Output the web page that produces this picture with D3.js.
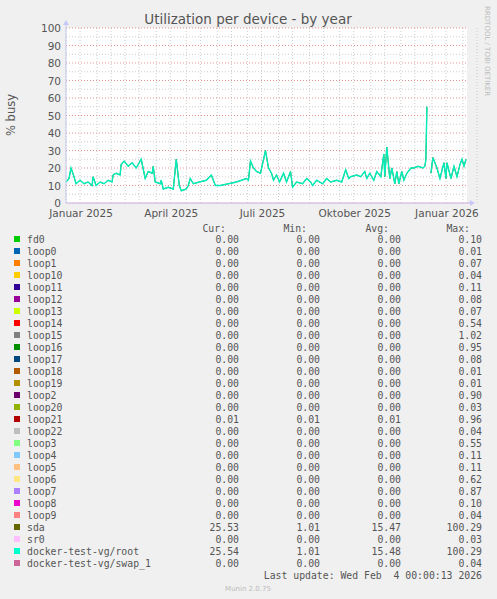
<!DOCTYPE html>
<html><head><meta charset="utf-8">
<script src="https://cdn.jsdelivr.net/npm/d3@7"></script>
<style>
body{margin:0;background:#f0f0f0;}
text{font-family:"DejaVu Sans",sans-serif;}
.mono{font-family:"DejaVu Sans Mono",monospace;font-size:9.8px;fill:#555;}
</style></head><body>
<script>
// day offsets from 2025-01-01 and % busy (docker-test-vg/root ~ sda)
var days = [0,3,5,8,10,14,18,22,26,27,30,34,38,42,46,47,50,54,55,58,62,66,70,75,79,82,86,87,89,94,95,97,102,107,110,113,115,120,122,124,127,133,140,145,149,154,162,170,180,182,184,187,190,194,199,202,205,207,210,213,217,220,224,226,230,236,240,244,246,250,256,260,264,270,275,279,282,284,290,294,298,300,303,307,310,314,317,318,320,323,325,328,330,332,335,337,340,344,347,351,356,358,359,360,361,362,364,366,370,373,377,379,380,384,387,390,393,395,397,399];
var busy = [12,14,20,15,11,13,11,12,10,15,10,12,11,13,12,16,17,16,22,24,21,23,20,25,14,18,17,21,12,11,13,8,9,8,25,10,7,8,10,14,11,12,13,16,10,10,11,12,14,13,24,20,18,17,30,20,17,13,16,12,17,12,18,9,12,11,14,12,10,13,11,14,12,13,12,19,14,15,16,15,18,14,17,13,18,15,28,15,32,14,20,11,18,11,18,13,17,20,20,21,20,21,25,55,null,null,17,26,20,14,23,14,23,14,21,15,22,25,21,25];
var names = ["fd0","loop0","loop1","loop10","loop11","loop12","loop13","loop14","loop15","loop16","loop17","loop18","loop19","loop2","loop20","loop21","loop22","loop3","loop4","loop5","loop6","loop7","loop8","loop9","sda","sr0","docker-test-vg/root","docker-test-vg/swap_1"];
var colors = ["#00CC00","#0066B3","#FF8000","#FFCC00","#330099","#990099","#CCFF00","#FF0000","#808080","#008F00","#00487D","#B35A00","#B38F00","#6B006B","#8FB300","#B30000","#BEBEBE","#80FF80","#80C9FF","#FFC080","#FFE680","#AA80FF","#EE00CC","#FF8080","#666600","#FFBFFF","#00FFCC","#CC6699"];
var cur = ["0.00","0.00","0.00","0.00","0.00","0.00","0.00","0.00","0.00","0.00","0.00","0.00","0.00","0.00","0.00","0.01","0.00","0.00","0.00","0.00","0.00","0.00","0.00","0.00","25.53","0.00","25.54","0.00"];
var mins = ["0.00","0.00","0.00","0.00","0.00","0.00","0.00","0.00","0.00","0.00","0.00","0.00","0.00","0.00","0.00","0.01","0.00","0.00","0.00","0.00","0.00","0.00","0.00","0.00","1.01","0.00","1.01","0.00"];
var avgs = ["0.00","0.00","0.00","0.00","0.00","0.00","0.00","0.00","0.00","0.00","0.00","0.00","0.00","0.00","0.00","0.01","0.00","0.00","0.00","0.00","0.00","0.00","0.00","0.00","15.47","0.00","15.48","0.00"];
var maxs = ["0.10","0.01","0.07","0.04","0.11","0.08","0.07","0.54","1.02","0.95","0.08","0.01","0.01","0.90","0.03","0.96","0.04","0.55","0.11","0.11","0.62","0.87","0.10","0.04","100.29","0.03","100.29","0.04"];
var monthLabels = ["Januar 2025","April 2025","Juli 2025","Oktober 2025","Januar 2026"];
var yTicks = [0,10,20,30,40,50,60,70,80,90,100];

var svg = d3.select("body").append("svg").attr("width",497).attr("height",599);
var t0 = new Date(2025,0,1), t1 = new Date(2026,1,5);
var x = d3.scaleTime().domain([t0,t1]).range([66,467]);
var y = d3.scaleLinear().domain([0,100]).range([203,28]);
var day = function(d){ return d3.timeDay.offset(t0,d); };

svg.append("rect").attr("x",66).attr("y",28).attr("width",401).attr("height",175).attr("fill","#fff");

// grid
var minorX = d3.timeMonth.range(t0,t1).concat(d3.timeMonth.range(t0,t1).map(function(d){return d3.timeDay.offset(d,14);}));
svg.selectAll(".gx").data(minorX).enter().append("line")
  .attr("x1",d=>x(d)).attr("x2",d=>x(d)).attr("y1",28).attr("y2",203)
  .attr("stroke","#ccc").attr("stroke-dasharray","1,2");
svg.selectAll(".gy").data(d3.range(5,100,10)).enter().append("line")
  .attr("x1",66).attr("x2",467).attr("y1",d=>y(d)).attr("y2",d=>y(d))
  .attr("stroke","#ccc").attr("stroke-dasharray","1,2");
var majorX = d3.timeMonth.every(2).range(new Date(2025,1,1),d3.timeDay.offset(t1,1)).filter(function(d){return d.getMonth()%2==1;});
svg.selectAll(".mx").data(majorX).enter().append("line")
  .attr("x1",d=>x(d)).attr("x2",d=>x(d)).attr("y1",28).attr("y2",203)
  .attr("stroke","#e49090").attr("stroke-dasharray","1,2");
svg.selectAll(".my").data(yTicks.slice(1)).enter().append("line")
  .attr("x1",66).attr("x2",467).attr("y1",d=>y(d)).attr("y2",d=>y(d))
  .attr("stroke","#e49090").attr("stroke-dasharray","1,2");

// y labels
svg.selectAll(".yl").data(yTicks).enter().append("text")
  .attr("x",61).attr("y",d=>y(d)+4).attr("text-anchor","end")
  .attr("font-size","10.5px").attr("fill","#555").text(d=>d);
// x labels, centered mid-month
var labelDates = [new Date(2025,0,16),new Date(2025,3,16),new Date(2025,6,16),new Date(2025,9,16),new Date(2026,0,16)];
svg.selectAll(".xl").data(labelDates).enter().append("text")
  .attr("x",d=>x(d)).attr("y",217).attr("text-anchor","middle")
  .attr("font-size","10.5px").attr("fill","#555").text((d,i)=>monthLabels[i]);

// data lines
var pts = days.map(function(d,i){return {t:day(d),v:busy[i]};});
var line = d3.line().defined(d=>d.v!=null).x(d=>x(d.t)).y(d=>y(d.v));
svg.append("path").datum(pts).attr("d",line).attr("fill","none").attr("stroke","#666600").attr("stroke-width",1);
svg.append("path").datum(pts).attr("d",line).attr("fill","none").attr("stroke","#00EEBB").attr("stroke-width",1.4);

// axes
svg.append("line").attr("x1",66).attr("x2",470).attr("y1",203).attr("y2",203).attr("stroke","#c8a8d8");
svg.append("line").attr("x1",66).attr("x2",66).attr("y1",203).attr("y2",25).attr("stroke","#c8c8f0");
svg.append("path").attr("d","M470,200L475,203L470,206Z").attr("fill","#c8c8f8");
svg.append("path").attr("d","M63,25L66,20L69,25Z").attr("fill","#c8c8f8");

// titles
svg.append("text").attr("x",248).attr("y",24).attr("text-anchor","middle").attr("font-size","13.5px").attr("fill","#555").text("Utilization per device - by year");
svg.append("text").attr("transform","translate(15,115) rotate(-90)").attr("text-anchor","middle").attr("font-size","11.5px").attr("fill","#555").text("% busy");
svg.append("text").attr("transform","translate(485,6) rotate(90)").attr("font-size","7px").attr("fill","#bbb").text("RRDTOOL / TOBI OETIKER");

// legend
var hdr = ["Cur:","Min:","Avg:","Max:"], hx = [226,307,389,470];
hdr.forEach(function(h,i){ svg.append("text").attr("class","mono").attr("x",hx[i]).attr("y",232).attr("text-anchor","end").text(h); });
var rowY = function(i){ return 243 + i*12; };
var rows = svg.selectAll(".lg").data(names).enter().append("g");
rows.append("rect").attr("x",14).attr("y",(d,i)=>rowY(i)-7).attr("width",6).attr("height",6).attr("fill",(d,i)=>colors[i]);
rows.append("text").attr("class","mono").attr("x",27).attr("y",(d,i)=>rowY(i)).text(d=>d);
[cur,mins,avgs,maxs].forEach(function(col,c){
  rows.append("text").attr("class","mono").attr("x",[239,320,401,482][c]).attr("y",(d,i)=>rowY(i)).attr("text-anchor","end").text((d,i)=>col[i]);
});
svg.append("text").attr("class","mono").attr("x",482).attr("y",579).attr("text-anchor","end").text("Last update: Wed Feb  4 00:00:13 2026").attr("xml:space","preserve");
svg.append("text").attr("x",248).attr("y",591).attr("text-anchor","middle").attr("font-size","7px").attr("fill","#bbb").text("Munin 2.0.75");
</script></body></html>
